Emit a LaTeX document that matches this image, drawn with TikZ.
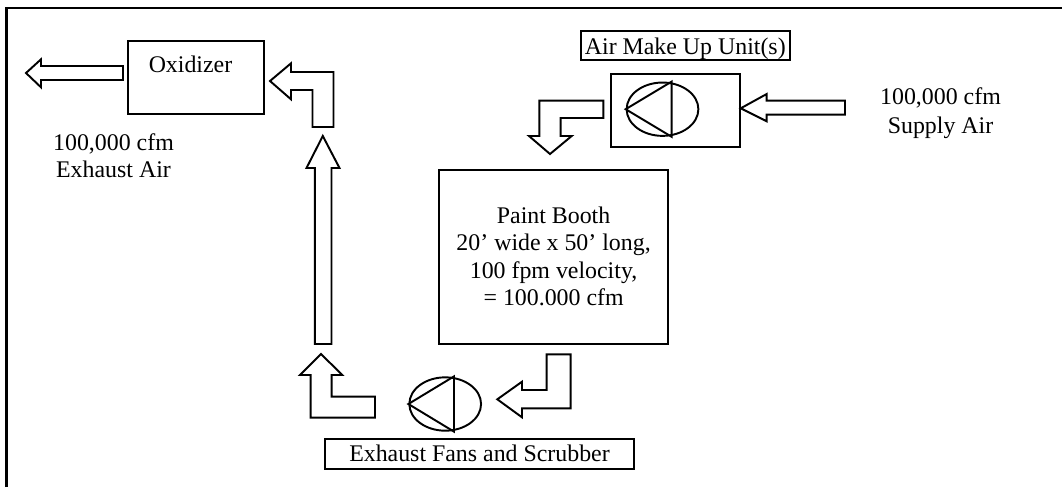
\documentclass[tikz,border=0pt]{standalone}
\usepackage{fontspec}
\setmainfont{Liberation Serif}
\usetikzlibrary{shapes.geometric}
\tikzset{
  x=0.75pt, y=-0.75pt,
  line/.style={draw=black, line width=1.45pt, line join=miter},
  frameline/.style={draw=black, line width=1.7pt},
  boxnode/.style={line, rectangle, inner sep=0pt, align=center,
    font=\fontsize{17.9pt}{20.5pt}\selectfont},
  label/.style={inner sep=0pt, align=center,
    font=\fontsize{17.9pt}{20pt}\selectfont},
  fanshape/.style={line, ellipse, inner sep=0pt, minimum width=53.8pt, minimum height=40pt},
  blockarrow/.style={line, fill=white}
}
\begin{document}
\begin{tikzpicture}
\useasboundingbox (0,0) rectangle (1062,487);
% outer frame
\coordinate (fa) at (6.5,487);
\coordinate (fb) at (6.5,8);
\coordinate (fc) at (1062,8);
\draw[frameline] (fa) -- (fb) -- (fc);

% boxes
\node[boxnode, minimum width=102.2pt, minimum height=54.2pt] (oxid) at (196,77.5) {};
\node[label, anchor=base] (oxidtext) at (190.5,72.5) {Oxidizer};
\node[boxnode, minimum width=171.5pt, minimum height=130.7pt] (booth) at (553.6,256.9)
  {\raisebox{1pt}{Paint Booth}\\\raisebox{1pt}{20’ wide x 50’ long,}\\\raisebox{1pt}{100 fpm velocity,}\\\raisebox{1pt}{= 100.000 cfm}};
\node[boxnode, minimum width=157pt, minimum height=21.5pt, text height=13.5pt, text depth=0pt] (amu) at (685.3,45.7) {Air Make Up Unit(s)};
\node[boxnode, minimum width=96.5pt, minimum height=55pt] (unit) at (675.7,110.7) {};
\node[boxnode, minimum width=231.75pt, minimum height=22.3pt, text height=11.7pt, text depth=0pt] (scrub) at (479.5,453.9) {Exhaust Fans and Scrubber};

% labels
\node[label] (exhaust) at (113.5,155.5) {100,000 cfm\\Exhaust Air};
\node[label] (supply) at (940.5,113) {100,000 cfm\\[1.6pt]Supply Air};

% fans
\node[fanshape] (fanA) at (662.5,109.2) {};
\draw[line] (fanA.west) -- ([xshift=6.9pt]fanA.north) -- ([xshift=6.9pt]fanA.south) -- cycle;
\node[fanshape] (fanB) at (445.2,404) {};
\draw[line] (fanB.west) -- ([xshift=6.6pt]fanB.north) -- ([xshift=6.6pt]fanB.south) -- cycle;

% block arrows
\draw[blockarrow] (26,73) -- (41,59.3) -- (41,66) -- (123,66) -- (123,80) -- (41,80) -- (41,87.3) -- cycle;
\draw[blockarrow] (270,81) -- (291,63.3) -- (291,72) -- (333.5,72) -- (333.5,127) -- (312.5,127) -- (312.5,90) -- (291,90) -- (291,99.3) -- cycle;
\draw[blockarrow] (322.8,136) -- (339.5,168) -- (331.5,168) -- (331.5,344) -- (314.8,344) -- (314.8,168) -- (306.5,168) -- cycle;
\draw[blockarrow] (321,354) -- (342.3,375) -- (331.7,375) -- (331.7,396.7) -- (375,396.7) -- (375,417.7) -- (310.7,417.7) -- (310.7,375) -- (300,375) -- cycle;
\draw[blockarrow] (497.3,399.3) -- (522,381.7) -- (522,390) -- (546.7,390) -- (546.7,354.3) -- (570.7,354.3) -- (570.7,408.3) -- (522,408.3) -- (522,417.3) -- cycle;
\draw[blockarrow] (740.7,108.3) -- (766.7,94) -- (766.7,100.7) -- (845,100.7) -- (845,114.7) -- (766.7,114.7) -- (766.7,121.3) -- cycle;
\draw[blockarrow] (550,154) -- (529,136) -- (539.3,136) -- (539.3,100.7) -- (603.3,100.7) -- (603.3,118) -- (560.7,118) -- (560.7,136) -- (571.7,136) -- cycle;
\end{tikzpicture}
\end{document}
